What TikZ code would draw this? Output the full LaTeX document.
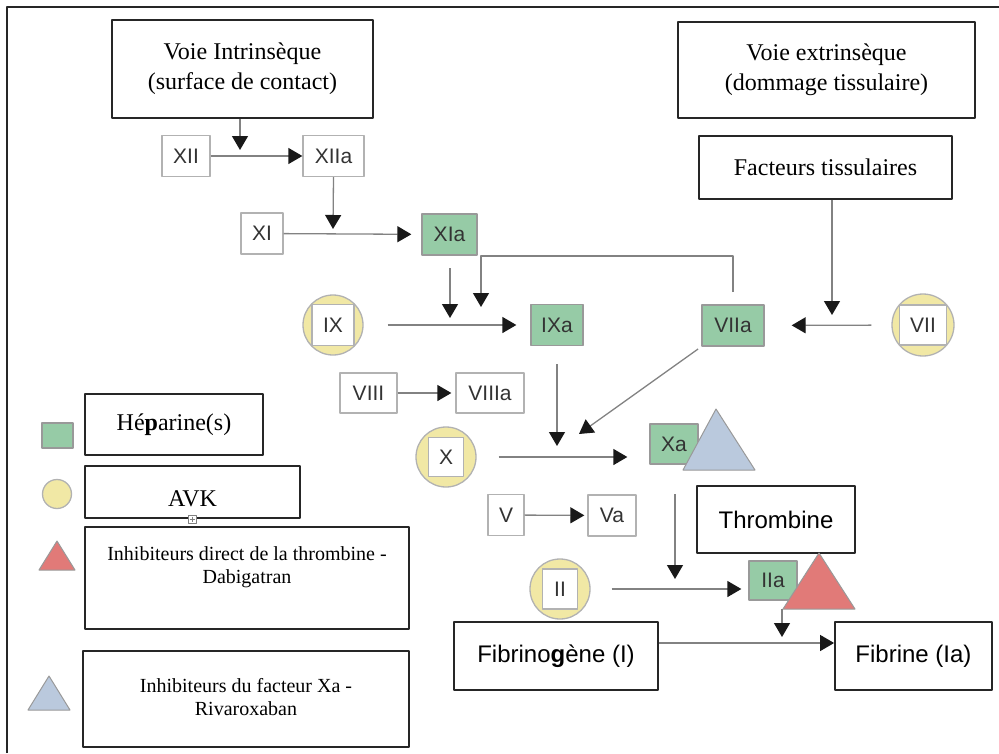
\documentclass[tikz,border=0pt]{standalone}
\usepackage{fontspec}
\setmainfont{Liberation Serif}
\setsansfont{Liberation Sans}
\usetikzlibrary{arrows.meta}
\definecolor{hepgreen}{RGB}{150,203,166}
\definecolor{avkyellow}{RGB}{241,232,165}
\definecolor{xablue}{RGB}{186,201,221}
\definecolor{thrred}{RGB}{225,122,120}
\definecolor{lnk}{RGB}{130,130,130}
\begin{document}
		\begin{tikzpicture}[x=1pt,y=-1pt, line join=round, >={Triangle[length=14pt,width=16pt,color=black!90]},
			big/.style={draw=black!85,line width=1.8pt,inner sep=0pt,align=center,font=\fontsize{24}{30}\selectfont},
			bigsf/.style={big,font=\sffamily\fontsize{24}{30}\selectfont},
			fac/.style={draw=black!30,line width=1.3pt,fill=white,inner sep=0pt,text=black!80,font=\sffamily\fontsize{21}{24}\selectfont},
			hep/.style={fac,fill=hepgreen,draw=black!40},
			avk/.style={circle,draw=black!30,line width=1.3pt,fill=avkyellow,inner sep=0pt},
			legtxt/.style={align=center,inner sep=0pt,font=\fontsize{20}{23}\selectfont},
			link/.style={draw=lnk,line width=1.3pt,->}]
			\useasboundingbox (0,0) rectangle (999,753);
			\draw[line width=2.4pt,color=black!85] (7,753)--(7,7)--(999,7);
			% voies
			\node[big,minimum width=261pt,minimum height=98pt] (vin) at (242.5,69) {Voie Intrinsèque\\(surface de contact)};
			\node[big,minimum width=297pt,minimum height=96pt] (vex) at (826.5,70) {Voie extrinsèque\\(dommage tissulaire)};
			\node[big,minimum width=253pt,minimum height=63pt] (ft) at (825.5,167.5) {Facteurs tissulaires};
			% facteurs
			\node[fac,minimum width=48pt,minimum height=41pt] (xii) at (186,156) {XII};
			\node[fac,minimum width=61pt,minimum height=41pt] (xiia) at (333.5,156) {XIIa};
			\node[fac,minimum width=42pt,minimum height=41pt] (xi) at (262,233.5) {XI};
			\node[hep,minimum width=55pt,minimum height=41pt] (xia) at (449.5,234.5) {XIa};
			\node[avk,minimum size=60pt] (ix) at (333,325) {};
			\node[fac,minimum width=42pt,minimum height=41pt] (ixl) at (ix) {IX};
			\node[hep,minimum width=52pt,minimum height=41pt] (ixa) at (557,325) {IXa};
			\node[hep,minimum width=62pt,minimum height=41pt] (viia) at (733,325.5) {VIIa};
			\node[avk,minimum size=62pt] (vii) at (923,325) {};
			\node[fac,minimum width=47pt,minimum height=40pt] (viil) at (vii) {VII};
			\node[fac,minimum width=57pt,minimum height=40pt] (viii) at (368.5,393) {VIII};
			\node[fac,minimum width=68pt,minimum height=40pt] (viiia) at (490,393) {VIIIa};
			\node[avk,minimum size=60pt] (x) at (446,457) {};
			\node[fac,minimum width=35pt,minimum height=39pt] (xl) at (x) {X};
			\node[hep,minimum width=48pt,minimum height=40pt] (xa) at (674,444) {Xa};
			\filldraw[fill=xablue,draw=black!40,line width=1pt] (716,409)--(755,470)--(683,470)--cycle;
			\node[fac,minimum width=36pt,minimum height=41pt] (v) at (506,515) {V};
			\node[fac,minimum width=48pt,minimum height=41pt] (va) at (612,515.5) {Va};
			\node[bigsf,minimum width=158pt,minimum height=67pt] (thr) at (776,519.5) {Thrombine};
			\node[avk,minimum size=60pt] (ii) at (560,589) {};
			\node[fac,minimum width=35pt,minimum height=40pt] (iil) at (ii) {II};
			\node[hep,minimum width=48pt,minimum height=39pt] (iia) at (773,580.5) {IIa};
			\filldraw[fill=thrred,draw=black!40,line width=1pt] (819,553)--(855,609)--(783,609)--cycle;
			\node[bigsf,minimum width=204pt,minimum height=68pt] (fbg) at (556,656) {Fibrino\textbf{g}ène (I)};
			\node[bigsf,minimum width=157pt,minimum height=68pt] (fbn) at (913.5,656) {Fibrine (Ia)};
			% points libres
			\coordinate (j12) at (240,150);
			\coordinate (j11) at (333,229);
			\coordinate (j9a) at (450,268);
			\coordinate (j9b) at (450,318);
			\coordinate (b1) at (733,292);
			\coordinate (bt) at (481,256);
			\coordinate (b2) at (481,307);
			\coordinate (j7) at (832,315);
			\coordinate (j10) at (557,446);
			\coordinate (j10b) at (579,434);
			\coordinate (j2a) at (675,494);
			\coordinate (j2) at (675,579);
			\coordinate (rtl) at (782,609);
			\coordinate (j1) at (782,637);
			\coordinate (fl) at (700,643);
			% liaisons
			\draw[link] (j12 |- vin.south)--(j12);
			\draw[link] (xii)--(xiia);
			\draw[link] (xiia.south)--(j11);
			\draw[link,shorten >=10pt] (xi)--(xia);
			\draw[link] (j9a)--(j9b);
			\draw[link] (b1) |- (bt)--(b2);
			\draw[link,shorten <=24pt,shorten >=14pt] (ix)--(ixa);
			\draw[link] (j7 |- ft.south)--(j7);
			\draw[link,shorten <=20pt,shorten >=27pt] (vii)--(viia);
			\draw[link,shorten >=4pt] (viii)--(viiia);
			\draw[link,shorten <=18pt] (ixa)--(j10);
			\draw[link,shorten <=4pt] (viia.south west)--(j10b);
			\draw[link,shorten <=22pt,shorten >=22pt] (x.east)--(x -| xa.west);
			\draw[link,shorten >=3pt] (v)--(va);
			\draw[link] (j2a)--(j2);
			\draw[link,shorten <=21pt,shorten >=7pt] (ii.east)--(ii -| iia.west);
			\draw[link] (rtl)--(j1);
			\draw[link] (fbg.east |- fl)--(fbn.west |- fl);
			% legende
			\node[hep,minimum width=31pt,minimum height=25pt] (lhep) at (57.5,435.5) {};
			\node[big,minimum width=178pt,minimum height=61pt] (hepb) at (174,424.5) {Hé\textbf{p}arine(s)};
			\node[avk,minimum size=29pt] (lavk) at (57,494) {};
			\node[big,minimum width=215pt,minimum height=52pt] (avkb) at (192.5,492) {};
			\node[inner sep=0pt,font=\fontsize{24}{30}\selectfont] (avkt) at (192.5,499) {AVK};
			\draw[black!50,line width=0.6pt,fill=white] (188,515) rectangle (196,523) (192,516.5)--(192,521.5) (189.5,519)--(194.5,519);
			\filldraw[fill=thrred,draw=black!40,line width=1pt] (57,541)--(75,570)--(39,570)--cycle;
			\node[big,minimum width=324pt,minimum height=102pt] (dbgb) at (247,578) {};
			\node[legtxt] (dbgt) at (247,567) {Inhibiteurs direct de la thrombine -\\Dabigatran};
			\filldraw[fill=xablue,draw=black!40,line width=1pt] (49,676)--(70,710)--(28,710)--cycle;
			\node[big,minimum width=326pt,minimum height=96pt] (rvxb) at (246,699) {};
			\node[legtxt] (rvxt) at (246,697) {Inhibiteurs du facteur Xa -\\Rivaroxaban};
		\end{tikzpicture}
\end{document}
